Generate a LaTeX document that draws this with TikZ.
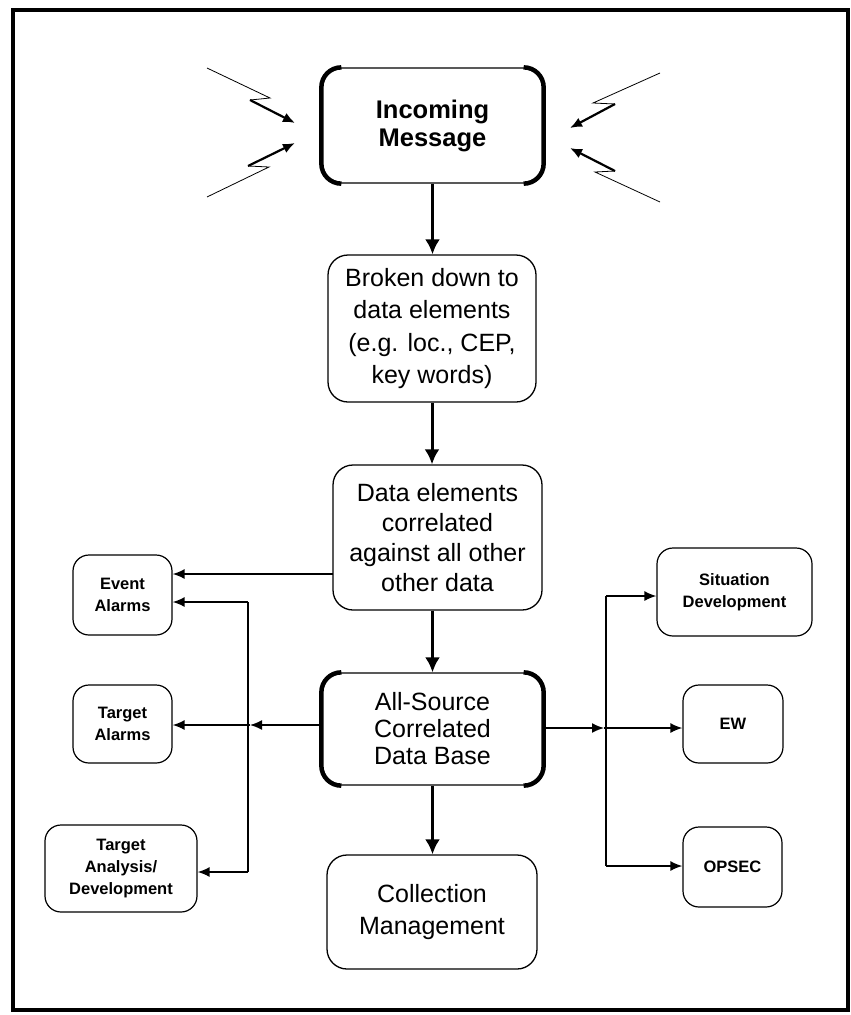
\documentclass[tikz,border=0pt]{standalone}
\usepackage{fontspec}
\setmainfont{Liberation Sans}
\usetikzlibrary{arrows.meta}
\begin{document}
\begin{tikzpicture}[x=1pt,y=-1pt,
  box/.style={draw, line width=1.3pt, rounded corners=20pt, align=center, inner sep=0pt},
  big/.style={box, font=\fontsize{25}{30}\selectfont},
  small/.style={box, rounded corners=16pt, line width=1.2pt, font=\bfseries\fontsize{16.5}{22}\selectfont},
  main/.style={line width=3pt, -{Latex[length=15pt,width=15pt]}},
  side/.style={line width=1.6pt, -{Latex[length=12pt,width=10pt]}},
  link/.style={line width=1.6pt},
  thinline/.style={line width=0.8pt},
  bolt/.style={line width=2.2pt, -{Latex[length=12pt,width=10pt]}},
  thickside/.style={line width=4.5pt, rounded corners=20pt}
]
\useasboundingbox (0,0) rectangle (851,1015);
\draw[line width=3.5pt] (13,10) rectangle (848,1010);

% main column
\node[box, font=\bfseries\fontsize{25.5}{28}\selectfont, minimum width=221pt, minimum height=115pt] (inc) at (432.5,125.5) {Incoming\\Message};
\node[box, font=\fontsize{25}{32.5}\selectfont, minimum width=208pt, minimum height=147pt] (brk) at (432,328.5) {Broken down to\\data elements\\(e.g. loc., CEP,\\key words)};
\node[big, minimum width=209pt, minimum height=145pt] (dat) at (437.5,537.5) {Data elements\\correlated\\against all other\\other data};
\node[box, font=\fontsize{25}{27}\selectfont, minimum width=221pt, minimum height=112pt] (all) at (432.5,729) {All-Source\\Correlated\\Data Base};
\node[box, font=\fontsize{25}{32}\selectfont, minimum width=210pt, minimum height=114pt] (col) at (432,912) {Collection\\Management};

% thick sides
\draw[thickside] ([xshift=20pt]inc.north west) -- (inc.north west) -- (inc.south west) -- ([xshift=20pt]inc.south west);
\draw[thickside] ([xshift=-20pt]inc.north east) -- (inc.north east) -- (inc.south east) -- ([xshift=-20pt]inc.south east);
\draw[thickside] ([xshift=20pt]all.north west) -- (all.north west) -- (all.south west) -- ([xshift=20pt]all.south west);
\draw[thickside] ([xshift=-20pt]all.north east) -- (all.north east) -- (all.south east) -- ([xshift=-20pt]all.south east);

% left boxes
\node[small, minimum width=99pt, minimum height=80pt] (ev) at (122.5,595) {Event\\Alarms};
\node[small, minimum width=99pt, minimum height=78pt] (ta) at (122.5,724) {Target\\Alarms};
\node[small, minimum width=152pt, minimum height=87pt] (tad) at (121,868.5) {Target\\Analysis/\\Development};

% right boxes
\node[small, minimum width=155pt, minimum height=88pt] (sit) at (734.5,592) {Situation\\Development};
\node[small, minimum width=100pt, minimum height=78pt] (ew) at (733,724) {EW};
\node[small, minimum width=99pt, minimum height=80pt] (ops) at (732.5,867) {OPSEC};

% main arrows
\draw[main] (inc.south) -- (inc.south |- brk.north);
\draw[main] (brk.south) -- (brk.south |- dat.north);
\draw[main] (dat.south -| all.north) -- (all.north);
\draw[main] (all.south) -- (all.south |- col.north);

% left connectors
\coordinate (dw) at (333,574);
\coordinate (lv1) at (248,602);
\coordinate (lv2) at (248,872);
\coordinate (jl) at (250,725);
\draw[side] (dw) -- (dw -| ev.east);
\draw[link] (lv1) -- (lv2);
\draw[side] (lv1) -- (lv1 -| ev.east);
\draw[side] (lv2) -- (lv2 -| tad.east);
\draw[side] (all.west |- jl) -- (jl);
\draw[side] (jl) -- (jl -| ta.east);

% right connectors
\coordinate (rv1) at (606,596);
\coordinate (rv2) at (606,866);
\coordinate (jr) at (604,728);
\draw[link] (rv1) -- (rv2);
\draw[side] (rv1) -- (rv1 -| sit.west);
\draw[side] (rv2) -- (rv2 -| ops.west);
\draw[side] (all.east |- jr) -- (jr);
\draw[side] (jr) -- (jr -| ew.west);

% lightning arrows
\coordinate (a1) at (207,68); \coordinate (a2) at (270,98); \coordinate (a3) at (250,100); \coordinate (a4) at (295,123);
\coordinate (b1) at (207,197); \coordinate (b2) at (269,167); \coordinate (b3) at (248,166); \coordinate (b4) at (295,143);
\coordinate (c1) at (660,73); \coordinate (c2) at (593,103); \coordinate (c3) at (615,104); \coordinate (c4) at (570,128);
\coordinate (d1) at (660,202); \coordinate (d2) at (595,172); \coordinate (d3) at (615,171); \coordinate (d4) at (570,148);
\draw[thinline] (a1) -- (a2) -- (a3); \draw[bolt] (a3) -- (a4);
\draw[thinline] (b1) -- (b2) -- (b3); \draw[bolt] (b3) -- (b4);
\draw[thinline] (c1) -- (c2) -- (c3); \draw[bolt] (c3) -- (c4);
\draw[thinline] (d1) -- (d2) -- (d3); \draw[bolt] (d3) -- (d4);
\end{tikzpicture}
\end{document}
